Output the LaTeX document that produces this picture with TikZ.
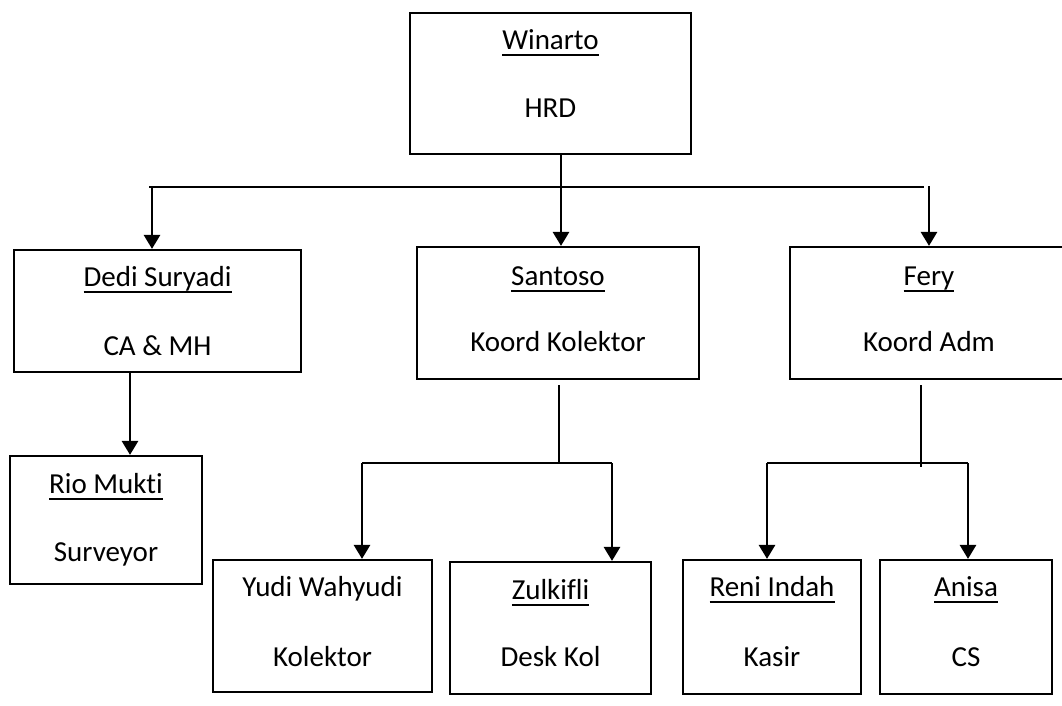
\documentclass[tikz,border=0pt]{standalone}
\usepackage{fontspec}
\setmainfont{Carlito}[Ligatures=NoCommon]
\usetikzlibrary{arrows.meta,positioning}
\newcommand{\uname}[1]{\setbox0\hbox{#1}\rlap{\rule[-6pt]{\wd0}{2.2pt}}\box0}
\tikzset{
  orgbox/.style={rectangle, draw=black, line width=2.2pt, fill=white, inner sep=0pt},
  nametxt/.style={anchor=base, inner sep=0pt, font=\fontsize{29}{33}\selectfont},
  roletxt/.style={nametxt},
  orgbar/.style={line width=2.2pt, black},
  orgstub/.style={line width=1.6pt, black},
  orgarrow/.style={-{Triangle[length=14pt,width=16pt]}, line width=2.8pt, black},
}
\begin{document}
\begin{tikzpicture}[x=1pt, y=-1pt]
    \useasboundingbox (0,0) rectangle (1062,705);
    \fill[white] (0,0) rectangle (1062,705);
    \clip (0,0) rectangle (1062,705);
    % boxes
    \node[orgbox, minimum width=281, minimum height=141] (hrd)     at (550.5, 83.5) {};
    \node[orgbox, minimum width=287, minimum height=122] (dedi)    at (157.5,311)   {};
    \node[orgbox, minimum width=282, minimum height=132] (santoso) at (558,  313)   {};
    \node[orgbox, minimum width=278, minimum height=132] (fery)    at (929,  313)   {};
    \node[orgbox, minimum width=192, minimum height=128] (rio)     at (106,  520)   {};
    \node[orgbox, minimum width=219, minimum height=132] (yudi)    at (322.5,626)   {};
    \node[orgbox, minimum width=201, minimum height=132] (zul)     at (550.5,628)   {};
    \node[orgbox, minimum width=178, minimum height=134] (reni)    at (772,  627)   {};
    \node[orgbox, minimum width=172, minimum height=134] (anisa)   at (966,  627)   {};
    % texts
    \node[nametxt] (hrdname)     at ([yshift=-38pt]hrd.north)      {\uname{Winarto}};
    \node[roletxt] (hrdrole)     at ([yshift=-106pt]hrd.north)     {HRD};
    \node[nametxt] (dediname)    at ([yshift=-38pt]dedi.north)     {\uname{Dedi Suryadi}};
    \node[roletxt] (dedirole)    at ([yshift=-107pt]dedi.north)    {CA \& MH};
    \node[nametxt] (santosoname) at ([yshift=-40pt]santoso.north)  {\uname{Santoso}};
    \node[roletxt] (santosorole) at ([yshift=-106pt]santoso.north) {Koord Kolektor};
    \node[nametxt] (feryname)    at ([yshift=-40pt]fery.north)     {\uname{Fery}};
    \node[roletxt] (feryrole)    at ([yshift=-106pt]fery.north)    {Koord Adm};
    \node[nametxt] (rioname)     at ([yshift=-39pt]rio.north)      {\uname{Rio Mukti}};
    \node[roletxt] (riorole)     at ([yshift=-107pt]rio.north)     {Surveyor};
    \node[nametxt] (yudiname)    at ([yshift=-38pt]yudi.north)     {Yudi Wahyudi};
    \node[roletxt] (yudirole)    at ([yshift=-108pt]yudi.north)    {Kolektor};
    \node[nametxt] (zulname)     at ([yshift=-39pt]zul.north)      {\uname{Zulkifli}};
    \node[roletxt] (zulrole)     at ([yshift=-106pt]zul.north)     {Desk Kol};
    \node[nametxt] (reniname)    at ([yshift=-38pt]reni.north)     {\uname{Reni Indah}};
    \node[roletxt] (renirole)    at ([yshift=-108pt]reni.north)    {Kasir};
    \node[nametxt] (anisaname)   at ([yshift=-38pt]anisa.north)    {\uname{Anisa}};
    \node[roletxt] (anisarole)   at ([yshift=-108pt]anisa.north)   {CS};
    % junction points
    \coordinate (hrdfoot)   at (561,154);
    \coordinate (barL)      at (149,187);
    \coordinate (barR)      at (924,187);
    \coordinate (dedidrop)  at (152,187);
    \coordinate (ferydrop)  at (929,186);
    \coordinate (dedifoot)  at (130,372);
    \coordinate (santstub)  at (559,385);
    \coordinate (santknot)  at (559,463);
    \coordinate (yudidrop)  at (362,463);
    \coordinate (zuldrop)   at (612,463);
    \coordinate (ferystub)  at (921,385);
    \coordinate (feryknot)  at (921,467);
    \coordinate (renidrop)  at (767,463);
    \coordinate (anisadrop) at (968,463);
    % top level
    \draw[orgbar] (barL) -- (barR);
    \draw[orgarrow] (hrdfoot) -- (hrdfoot |- santoso.north);
    \draw[orgarrow] (dedidrop) -- (dedidrop |- dedi.north);
    \draw[orgarrow] (ferydrop) -- (ferydrop |- fery.north);
    % below Dedi
    \draw[orgarrow] (dedifoot) -- (dedifoot |- rio.north);
    % below Santoso
    \draw[orgstub] (santstub) -- (santknot);
    \draw[orgbar] (yudidrop) -- (zuldrop);
    \draw[orgarrow] (yudidrop) -- (yudidrop |- yudi.north);
    \draw[orgarrow] (zuldrop) -- (zuldrop |- zul.north);
    % below Fery
    \draw[orgstub] (ferystub) -- (feryknot);
    \draw[orgbar] (renidrop) -- (anisadrop);
    \draw[orgarrow] (renidrop) -- (renidrop |- reni.north);
    \draw[orgarrow] (anisadrop) -- (anisadrop |- anisa.north);
\end{tikzpicture}
\end{document}
